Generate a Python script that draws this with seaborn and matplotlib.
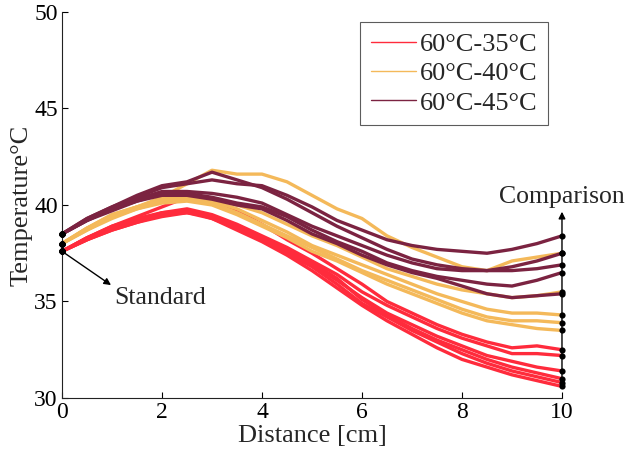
import numpy as np
import pandas as pd
import matplotlib
matplotlib.use("Agg")
import matplotlib.pyplot as plt
import seaborn as sns
from matplotlib.lines import Line2D

# ---------------- data ----------------
distance = [0.0, 0.5, 1.0, 1.5, 2.0, 2.5, 3.0, 3.5, 4.0, 4.5, 5.0,
            5.5, 6.0, 6.5, 7.0, 7.5, 8.0, 8.5, 9.0, 9.5, 10.0]

groups = ["60°C-35°C", "60°C-40°C", "60°C-45°C"]

red_runs = [
    [37.6, 38.3, 38.9, 39.4, 39.9, 40.4, 40.2, 39.7, 39.0, 38.2, 37.5, 36.7, 35.9, 35.0, 34.4, 33.8, 33.3, 32.9, 32.6, 32.7, 32.5],
    [37.6, 38.3, 38.9, 39.3, 39.6, 39.8, 39.5, 39.0, 38.4, 37.8, 37.1, 36.4, 35.5, 34.8, 34.2, 33.6, 33.1, 32.7, 32.3, 32.3, 32.2],
    [37.6, 38.2, 38.8, 39.2, 39.5, 39.7, 39.3, 38.8, 38.2, 37.6, 36.9, 36.1, 35.2, 34.4, 33.8, 33.2, 32.7, 32.2, 31.9, 31.6, 31.4],
    [37.6, 38.3, 38.8, 39.2, 39.6, 39.7, 39.4, 38.9, 38.3, 37.7, 37.0, 36.2, 35.1, 34.3, 33.6, 33.0, 32.5, 32.0, 31.6, 31.3, 31.0],
    [37.6, 38.2, 38.7, 39.1, 39.5, 39.6, 39.4, 38.8, 38.2, 37.5, 36.8, 35.9, 34.9, 34.2, 33.5, 32.9, 32.3, 31.8, 31.4, 31.1, 30.8],
    [37.6, 38.2, 38.7, 39.1, 39.4, 39.6, 39.3, 38.7, 38.1, 37.4, 36.6, 35.7, 34.8, 34.0, 33.3, 32.6, 32.0, 31.6, 31.2, 30.9, 30.6],
]

orange_runs = [
    [38.0, 38.8, 39.5, 39.9, 40.4, 41.1, 41.8, 41.6, 41.6, 41.2, 40.5, 39.8, 39.3, 38.4, 37.8, 37.3, 36.8, 36.6, 37.1, 37.3, 37.5],
    [38.0, 38.8, 39.5, 39.9, 40.3, 40.5, 40.3, 40.0, 39.6, 39.0, 38.4, 37.9, 37.3, 36.7, 36.3, 35.9, 35.6, 35.4, 35.2, 35.3, 35.5],
    [38.0, 38.8, 39.4, 39.9, 40.2, 40.4, 40.2, 39.8, 39.2, 38.6, 37.9, 37.4, 36.9, 36.4, 35.9, 35.4, 35.0, 34.6, 34.4, 34.4, 34.3],
    [38.0, 38.7, 39.4, 39.8, 40.2, 40.3, 40.1, 39.6, 39.0, 38.4, 37.8, 37.2, 36.6, 36.1, 35.6, 35.1, 34.6, 34.2, 34.0, 34.0, 33.9],
    [38.0, 38.7, 39.3, 39.8, 40.1, 40.2, 40.0, 39.5, 38.9, 38.3, 37.6, 37.1, 36.5, 35.9, 35.4, 34.9, 34.4, 34.0, 33.8, 33.6, 33.5],
]

maroon_runs = [
    [38.5, 39.3, 39.9, 40.4, 40.9, 41.1, 41.3, 41.1, 41.0, 40.5, 39.9, 39.2, 38.7, 38.2, 37.9, 37.7, 37.6, 37.5, 37.7, 38.0, 38.4],
    [38.5, 39.3, 39.9, 40.5, 41.0, 41.2, 41.7, 41.3, 40.9, 40.3, 39.6, 38.9, 38.3, 37.7, 37.2, 36.9, 36.7, 36.6, 36.8, 37.1, 37.5],
    [38.5, 39.2, 39.8, 40.3, 40.7, 40.7, 40.6, 40.4, 40.1, 39.5, 38.9, 38.4, 37.9, 37.4, 37.0, 36.7, 36.6, 36.6, 36.6, 36.7, 36.9],
    [38.5, 39.2, 39.8, 40.2, 40.6, 40.6, 40.4, 40.1, 39.9, 39.4, 38.7, 38.1, 37.6, 37.0, 36.6, 36.3, 36.1, 35.9, 35.8, 36.1, 36.5],
    [38.5, 39.2, 39.7, 40.2, 40.5, 40.5, 40.3, 40.0, 39.8, 39.2, 38.5, 38.0, 37.4, 36.9, 36.5, 36.2, 35.8, 35.4, 35.2, 35.3, 35.4],
]

x_ticks = [0, 2, 4, 6, 8, 10]
y_ticks = [30, 35, 40, 45, 50]

# ---------------- build table ----------------
rows = []
for g, runs in zip(groups, [red_runs, orange_runs, maroon_runs]):
    for i, run in enumerate(runs):
        for xv, yv in zip(distance, run):
            rows.append({"Distance": xv, "Temp": yv, "Group": g, "Run": f"{g}-{i}"})
df = pd.DataFrame(rows)

ends = df[(df["Distance"] == distance[0]) | (df["Distance"] == distance[-1])]

# ---------------- style ----------------
sns.set_theme(style="ticks")
plt.rcParams["font.family"] = ["Liberation Serif", "DejaVu Serif"]

palette = {groups[0]: "#ff2b3c", groups[1]: "#f4b95a", groups[2]: "#7b2341"}

fig = plt.figure(figsize=(6.27, 4.59), dpi=100)
ax = fig.add_axes([0.0989, 0.1329, 0.7974, 0.8410])

sns.lineplot(data=df, x="Distance", y="Temp", hue="Group", units="Run",
             estimator=None, palette=palette, linewidth=2.4, legend=False,
             ax=ax, sort=False)

sns.scatterplot(data=ends, x="Distance", y="Temp", color="black", s=20,
                edgecolor="black", linewidth=0, ax=ax, legend=False,
                clip_on=False, zorder=5)

ax.set_xlim(0, 10)
ax.set_ylim(30, 50)
ax.set_xticks(x_ticks)
ax.set_yticks(y_ticks)
ax.tick_params(direction="in", length=4, width=0.8, labelsize=17, colors="black", pad=3)
for s in ["top", "right"]:
    ax.spines[s].set_visible(False)
for s in ["left", "bottom"]:
    ax.spines[s].set_linewidth(0.8)
    ax.spines[s].set_color("#222222")

ax.set_xlabel("Distance [cm]", fontsize=19, labelpad=1)
ax.set_ylabel("Temperature°C", fontsize=19, labelpad=1)

# annotations
x_end = distance[-1]
low_end = min(r[-1] for r in red_runs)
ax.annotate("", xy=(x_end, 39.65), xytext=(x_end, low_end),
            arrowprops=dict(arrowstyle="-|>", color="black", lw=1.0,
                            mutation_scale=10, shrinkA=0, shrinkB=0),
            annotation_clip=False)
ax.text(x_end, 40.4, "Comparison", ha="center", va="center", fontsize=18.5)

ax.annotate("", xy=(0.98, 35.85), xytext=(distance[0], red_runs[0][0]),
            arrowprops=dict(arrowstyle="-|>", color="black", lw=1.0,
                            mutation_scale=10, shrinkA=0, shrinkB=0),
            annotation_clip=False)
ax.text(1.05, 35.2, "Standard", ha="left", va="center", fontsize=18.5)

handles = [Line2D([0], [0], color=palette[g], lw=1.0) for g in groups]
leg = ax.legend(handles, groups, loc="upper right", bbox_to_anchor=(0.972, 0.974),
                fontsize=19, frameon=True, fancybox=False, edgecolor="#333333",
                handlelength=1.7, labelspacing=0.22, borderpad=0.4,
                handletextpad=0.15, borderaxespad=0)
leg.get_frame().set_linewidth(0.8)

fig.savefig("out.png", dpi=100)
